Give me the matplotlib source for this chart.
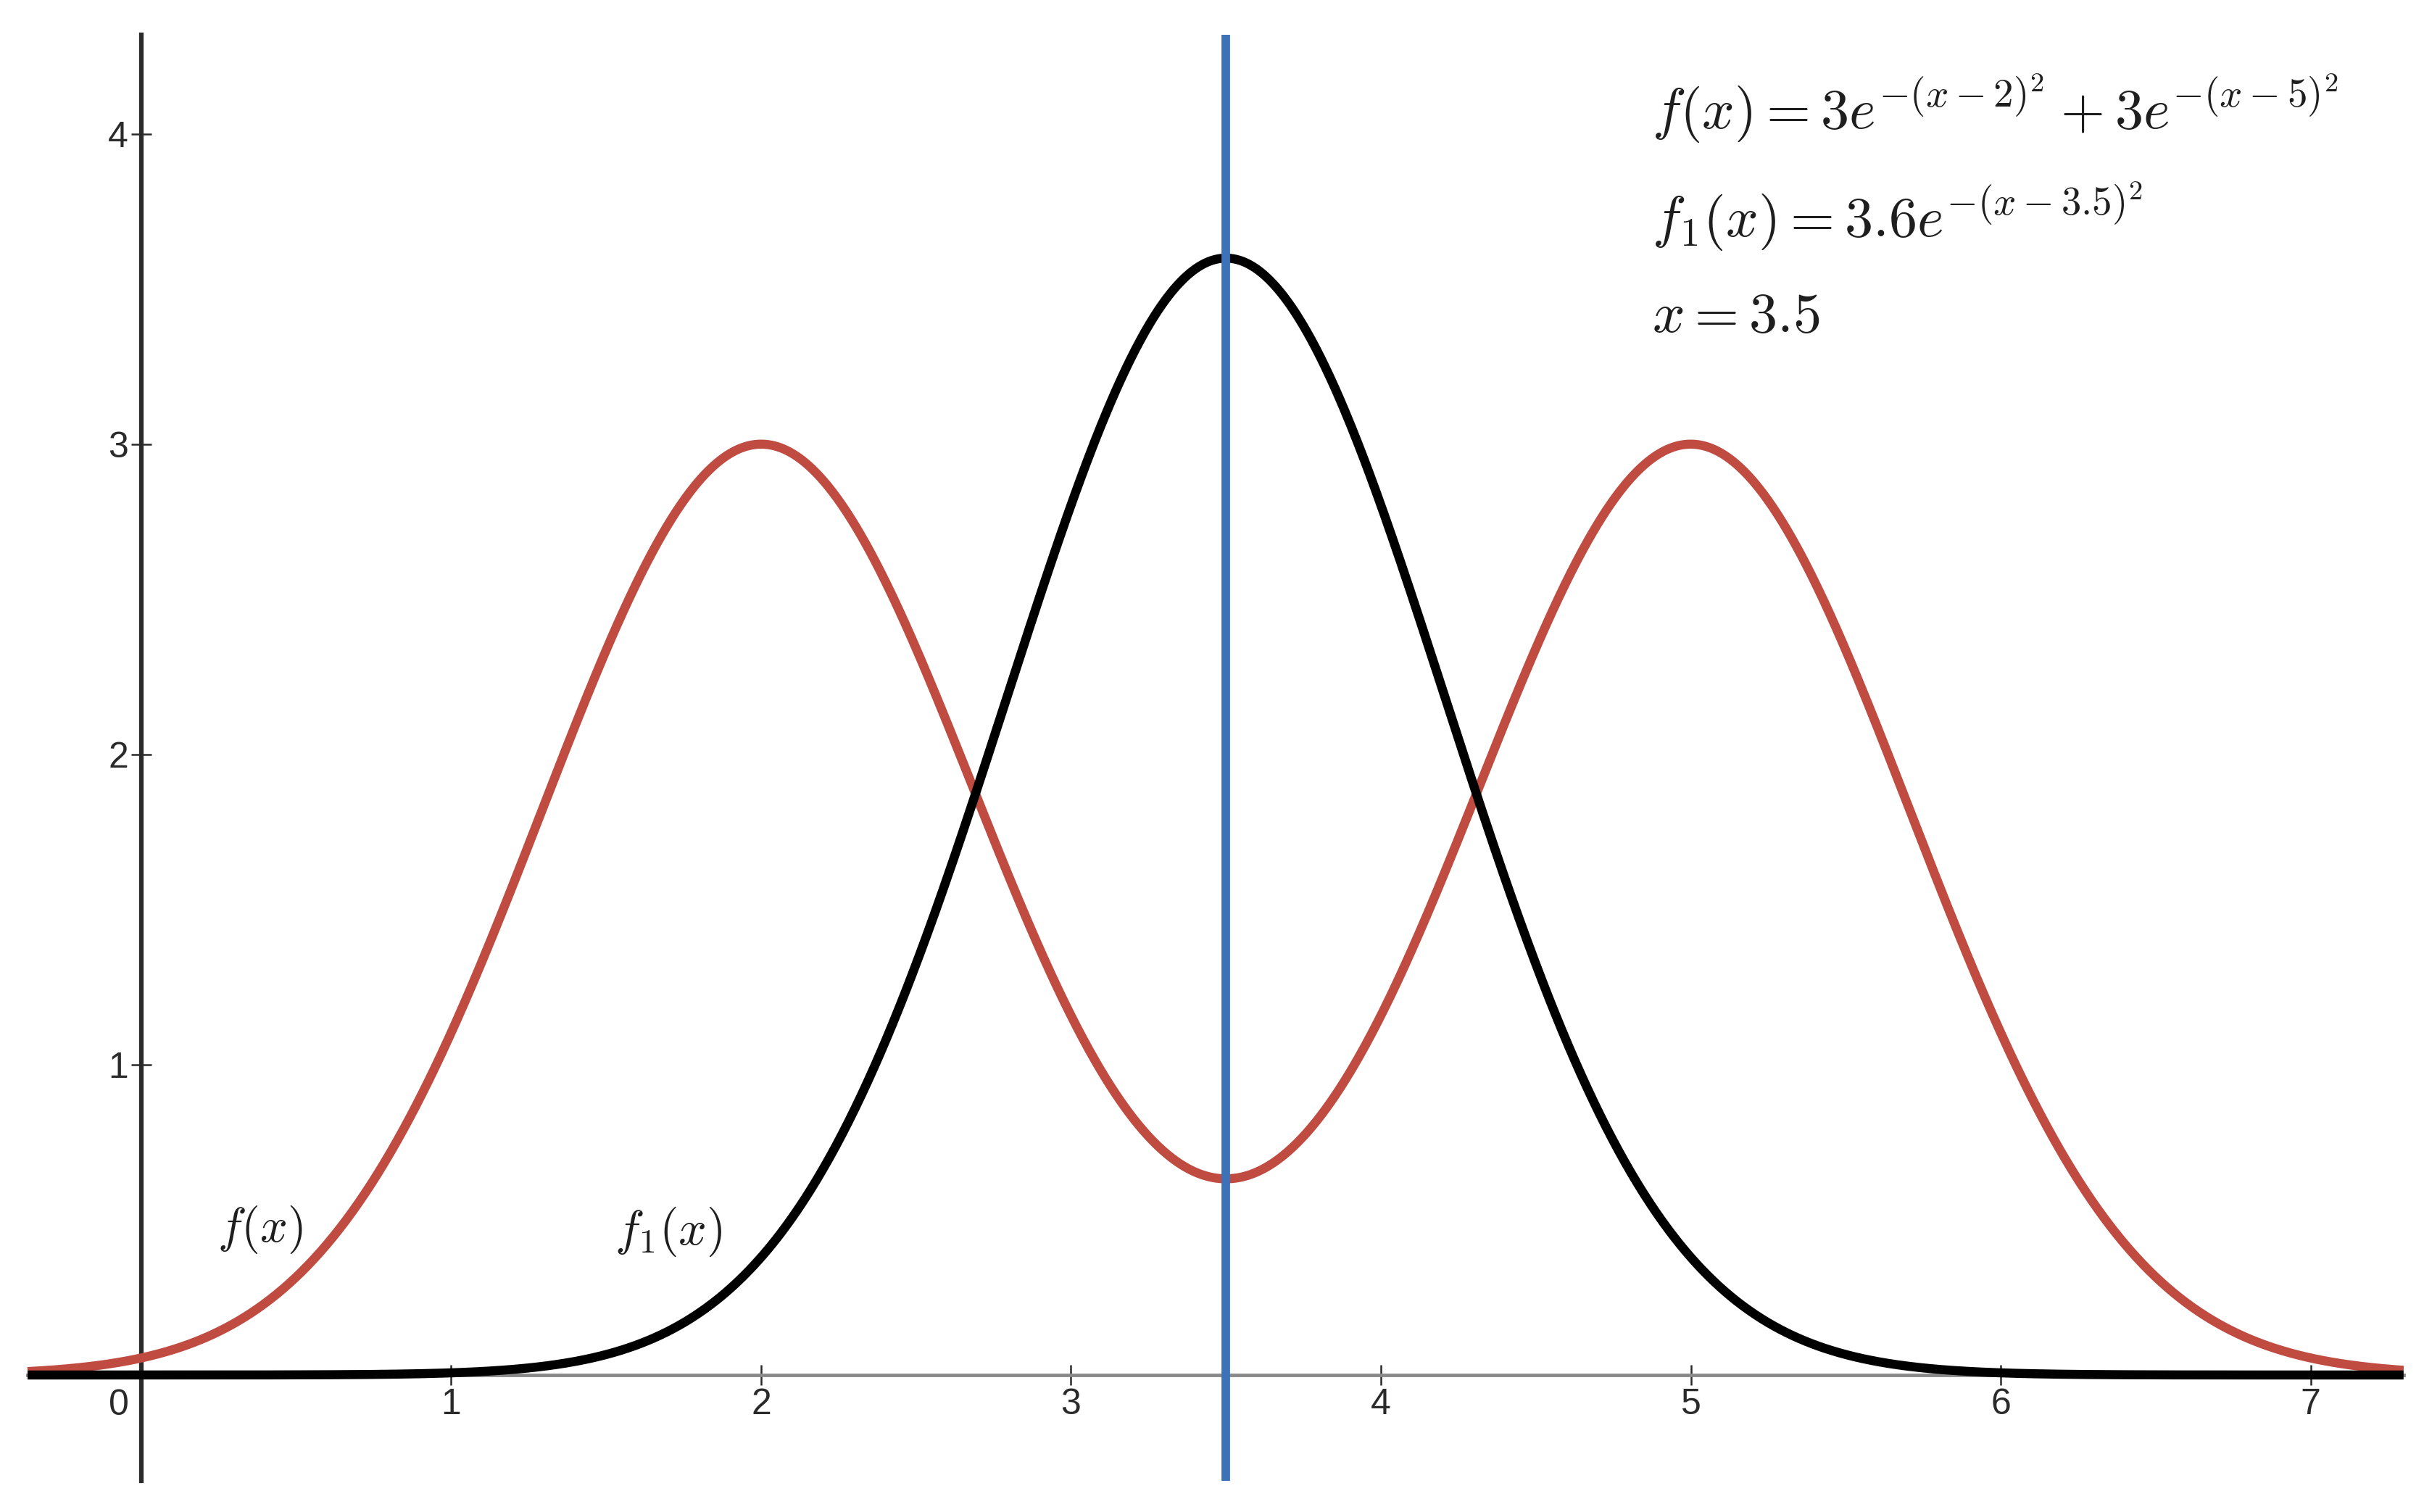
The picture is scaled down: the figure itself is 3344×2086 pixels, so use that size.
import numpy as np
import matplotlib
matplotlib.use("Agg")
import matplotlib.pyplot as plt

plt.rcParams['mathtext.fontset'] = 'cm'
plt.rcParams['font.family'] = ['Liberation Sans', 'DejaVu Sans']

# curve parameters, as written on the chart
red_amps = [3, 3]          # f(x) = 3e^-(x-2)^2 + 3e^-(x-5)^2
red_centers = [2, 5]
black_amp = 3.6            # f1(x) = 3.6e^-(x-3.5)^2
black_center = 3.5
line_x = 3.5               # vertical line x = 3.5
x_range = [-0.367, 7.30]   # span of x-axis and curves
y_range = [-0.34, 4.32]    # span of y-axis and vertical line
xticks = [1, 2, 3, 4, 5, 6, 7]
yticks = [1, 2, 3, 4]

x = np.linspace(x_range[0], x_range[1], 1500)
f = sum(a * np.exp(-(x - c) ** 2) for a, c in zip(red_amps, red_centers))
f1 = black_amp * np.exp(-(x - black_center) ** 2)

fig = plt.figure(figsize=(33.44, 20.86), dpi=100)
ax = fig.add_axes([0, 0, 1, 1])
ax.set_xlim(-0.456, 7.366)
ax.set_ylim(-0.4416, 4.432)

ax.plot(x, f, color='#BF4B41', lw=9, zorder=3, solid_capstyle='butt')
ax.plot(x, f1, color='black', lw=9, zorder=3.5, solid_capstyle='butt')
ax.plot([line_x, line_x], y_range, color='#3D72B8', lw=8.5, zorder=4, solid_capstyle='butt')

# axes through the origin
for s in ['top', 'right']:
    ax.spines[s].set_visible(False)
ax.spines['bottom'].set_position(('data', 0))
ax.spines['bottom'].set_bounds(x_range[0], x_range[1])
ax.spines['bottom'].set_color('#8a8a8a')
ax.spines['bottom'].set_linewidth(3.5)
ax.spines['left'].set_position(('data', 0))
ax.spines['left'].set_bounds(y_range[0], y_range[1])
ax.spines['left'].set_color('#2a2a2a')
ax.spines['left'].set_linewidth(4.5)

ax.set_xticks(xticks)
ax.set_xticklabels([str(t) for t in xticks])
ax.set_yticks(yticks)
ax.set_yticklabels([str(t) for t in yticks])
ax.tick_params(axis='both', direction='inout', length=20, width=1.8, color='#2a2a2a',
               labelsize=36, labelcolor='#2a2a2a', pad=3)
ax.annotate('0', xy=(0, 0), xytext=(-22, -14), textcoords='offset points',
            ha='center', va='top', fontsize=36, color='#2a2a2a')

# formulas
tc = '#1e1e1e'
ax.text(4.875, 4.017, r'$f(x) = 3e^{-(x-2)^2} + 3e^{-(x-5)^2}$', fontsize=56.5, color=tc)
ax.text(4.875, 3.668, r'$f_1(x) = 3.6e^{-(x-3.5)^2}$', fontsize=56.5, color=tc)
ax.text(4.875, 3.363, r'$x = 3.5$', fontsize=56.5, color=tc)

# curve labels
ax.text(0.245, 0.43, r'$f(x)$', fontsize=48, color=tc)
ax.text(1.527, 0.42, r'$f_1(x)$', fontsize=49, color=tc)

fig.savefig('out.png', dpi=100, facecolor='white')
